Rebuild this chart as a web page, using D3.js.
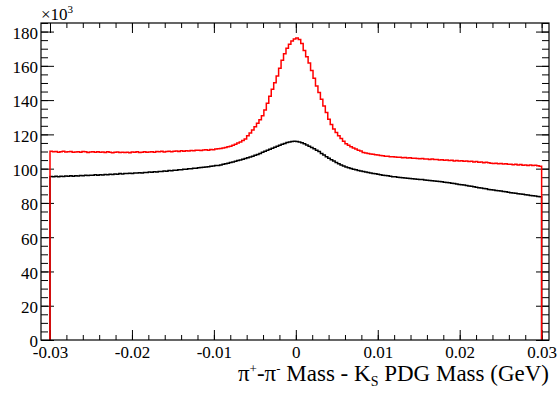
<!DOCTYPE html>
<html>
<head>
<meta charset="utf-8">
<script src="https://cdnjs.cloudflare.com/ajax/libs/d3/7.8.5/d3.min.js"></script>
<style>
body{margin:0;background:#fff;}
svg text{font-family:"Liberation Serif","Times New Roman",serif;}
</style>
</head>
<body>
<div id="chart-area"></div>
<script>
// histogram range and bins (200 bins, -0.03 .. 0.03 GeV)
var binLow=-0.03, binHigh=0.03, nBins=200;

// red histogram, counts in units of 10^3
var redCounts=[
110.2,109.8,110.0,109.6,109.9,110.1,109.7,109.8,110.0,109.5,
109.7,109.9,109.6,110.0,109.8,109.4,109.7,109.9,109.6,109.8,
109.5,109.7,109.4,109.8,109.6,109.3,109.5,109.7,109.4,109.6,
109.4,109.6,109.3,109.7,109.5,109.8,109.4,109.6,109.9,109.5,
109.7,109.9,109.6,110.0,109.8,110.1,109.7,110.0,110.2,109.9,
110.1,110.3,110.0,110.4,110.2,110.5,110.3,110.6,110.4,110.7,
110.8,110.6,110.9,111.0,110.8,111.2,111.1,111.4,111.6,111.8,
112.1,112.4,112.8,113.1,113.7,114.2,114.9,115.6,116.4,117.3,
119.2,120.8,122.5,124.4,126.5,128.6,130.8,134.2,138.2,142.3,
146.3,150.2,154.1,158.6,163.3,167.0,170.3,172.6,174.5,175.6,
176.3,175.4,173.0,169.0,165.3,161.6,157.3,152.7,148.3,144.4,
140.5,136.6,132.8,128.8,125.8,123.2,121.1,119.2,117.6,116.0,
114.6,113.6,112.8,112.0,111.4,110.8,110.3,109.4,109.1,108.8,
108.6,108.4,108.1,108.0,107.7,107.6,107.3,107.2,107.0,106.9,
106.8,106.6,106.7,106.4,106.5,106.2,106.3,106.0,106.1,105.9,
105.8,105.9,105.6,105.7,105.4,105.6,105.3,105.4,105.1,105.2,
104.9,105.0,104.7,104.9,104.5,104.7,104.4,104.6,104.3,104.4,
104.1,104.3,103.9,104.1,103.7,103.9,103.5,103.7,103.4,103.2,
103.0,103.2,102.8,103.0,102.7,102.9,102.5,102.6,102.3,102.5,
102.2,102.4,102.0,102.2,101.9,102.1,101.8,102.0,101.7,101.4
];

// black histogram, counts in units of 10^3
var blackCounts=[
95.4,95.2,95.5,95.3,95.6,95.4,95.7,95.5,95.8,95.6,
95.9,95.7,96.0,95.8,96.1,96.0,96.2,96.1,96.4,96.2,
96.5,96.3,96.6,96.5,96.8,96.6,96.9,96.8,97.1,96.9,
97.2,97.1,97.3,97.2,97.5,97.4,97.6,97.5,97.8,97.7,
98.0,97.9,98.2,98.1,98.4,98.3,98.6,98.5,98.9,98.8,
99.1,99.0,99.4,99.3,99.6,99.6,99.9,99.9,100.2,100.2,
100.5,100.6,100.8,101.0,101.1,101.4,101.5,101.8,101.9,102.2,
102.5,102.9,103.2,103.6,103.9,104.3,104.7,105.1,105.5,105.9,
106.3,106.8,107.3,107.8,108.3,108.9,109.5,110.1,110.7,111.3,
111.9,112.5,113.1,113.7,114.2,114.7,115.2,115.6,115.9,116.0,
115.9,115.6,115.1,114.5,113.8,113.1,112.3,111.6,110.8,110.0,
108.9,107.9,106.9,106.0,105.2,104.4,103.6,102.9,102.2,101.6,
101.0,100.5,100.1,99.7,99.3,98.9,98.6,98.3,98.0,97.7,
97.5,97.2,97.0,96.7,96.5,96.2,96.0,95.8,95.6,95.3,
95.2,95.0,94.9,94.7,94.6,94.4,94.3,94.1,94.0,93.8,
93.7,93.6,93.4,93.3,93.1,93.0,92.8,92.7,92.5,92.3,
92.1,91.9,91.8,91.5,91.3,91.1,90.8,90.6,90.4,90.1,
89.9,89.7,89.4,89.2,88.9,88.7,88.4,88.2,87.9,87.7,
87.5,87.3,87.1,86.9,86.7,86.5,86.2,86.0,85.8,85.6,
85.4,85.2,85.0,84.8,84.6,84.4,84.2,84.0,83.8,83.6
];

var xTicks=[-0.03,-0.02,-0.01,0,0.01,0.02,0.03];
var xTickLabels=["-0.03","-0.02","-0.01","0","0.01","0.02","0.03"];
var yTicks=[0,20,40,60,80,100,120,140,160,180];

var W=558, H=396;
var margin={left:41,right:9,top:23,bottom:56};
var width=W-margin.left-margin.right;
var height=H-margin.top-margin.bottom;

var svg=d3.select("#chart-area").append("svg")
    .attr("width",W)
    .attr("height",H);

var g=svg.append("g")
    .attr("transform","translate("+margin.left+","+margin.top+")");

var x=d3.scaleLinear()
    .domain([-0.0311,0.0309])
    .range([0,width]);

var y=d3.scaleLinear()
    .domain([0,185])
    .range([height,0]);

// minor tick positions
var xMinor=d3.range(-15,16).map(function(i){return +(i*0.002).toFixed(4);});
var yMinor=d3.range(0,186,5);

function fmtX(d){ return xTickLabels[xTicks.indexOf(d)]; }

// bottom axis
g.append("g")
    .attr("transform","translate(0,"+height+")")
    .call(d3.axisBottom(x).tickValues(xMinor).tickSize(-5).tickFormat(""));
g.append("g")
    .attr("transform","translate(0,"+height+")")
    .attr("font-family","Liberation Serif")
    .call(d3.axisBottom(x).tickValues(xTicks).tickSize(-10).tickFormat(fmtX))
    .selectAll("text")
        .attr("y",18)
        .attr("dy",null)
        .attr("font-size","17px")
        .attr("fill","#000");

// top axis
g.append("g")
    .call(d3.axisTop(x).tickValues(xMinor).tickSize(-5).tickFormat(""));
g.append("g")
    .call(d3.axisTop(x).tickValues(xTicks).tickSize(-10).tickFormat(""));

// left axis
g.append("g")
    .call(d3.axisLeft(y).tickValues(yMinor).tickSize(-7).tickFormat(""));
g.append("g")
    .attr("font-family","Liberation Serif")
    .call(d3.axisLeft(y).tickValues(yTicks).tickSize(-13).tickPadding(3))
    .selectAll("text")
        .attr("dy","0.4em")
        .attr("font-size","17px")
        .attr("fill","#000");

// right axis
g.append("g")
    .attr("transform","translate("+width+",0)")
    .call(d3.axisRight(y).tickValues(yMinor).tickSize(-7).tickFormat(""));
g.append("g")
    .attr("transform","translate("+width+",0)")
    .call(d3.axisRight(y).tickValues(yTicks).tickSize(-13).tickFormat(""));

g.selectAll(".domain").remove();
g.selectAll(".tick line").attr("stroke","#000").attr("stroke-width",1);

// histograms
var binWidth=(binHigh-binLow)/nBins;
function histPoints(counts){
    var pts=[[binLow,0]];
    counts.forEach(function(c,i){ pts.push([binLow+i*binWidth,c]); });
    pts.push([binHigh,counts[counts.length-1]]);
    pts.push([binHigh,0]);
    return pts;
}

var line=d3.line()
    .x(function(d){return x(d[0]);})
    .y(function(d){return y(d[1]);})
    .curve(d3.curveStepAfter);

g.append("path")
    .datum(histPoints(blackCounts))
    .attr("fill","none")
    .attr("stroke","#000")
    .attr("stroke-width",1.5)
    .attr("d",line);

g.append("path")
    .datum(histPoints(redCounts))
    .attr("fill","none")
    .attr("stroke","#ff0000")
    .attr("stroke-width",1.5)
    .attr("d",line);

// frame
g.append("rect")
    .attr("x",0)
    .attr("y",0)
    .attr("width",width)
    .attr("height",height)
    .attr("fill","none")
    .attr("stroke","#000")
    .attr("stroke-width",1.2);

// exponent label
var expo=svg.append("text")
    .attr("x",41)
    .attr("y",20)
    .attr("font-size","17px")
    .attr("fill","#000");
expo.append("tspan").text("\u00d710");
expo.append("tspan").attr("font-size","11px").attr("dy",-7).text("3");

// x title
var title=svg.append("text")
    .attr("x",549)
    .attr("y",381)
    .attr("text-anchor","end")
    .attr("font-size","23px")
    .attr("fill","#000");
title.append("tspan").text("\u03c0");
title.append("tspan").attr("font-size","13px").attr("dy",-8).text("+");
title.append("tspan").attr("dy",8).text("-\u03c0");
title.append("tspan").attr("font-size","13px").attr("dy",-8).text("-");
title.append("tspan").attr("dy",8).text(" Mass - K");
title.append("tspan").attr("font-size","14px").attr("dy",5).text("S");
title.append("tspan").attr("dy",-5).text(" PDG Mass (GeV)");
</script>
</body>
</html>
